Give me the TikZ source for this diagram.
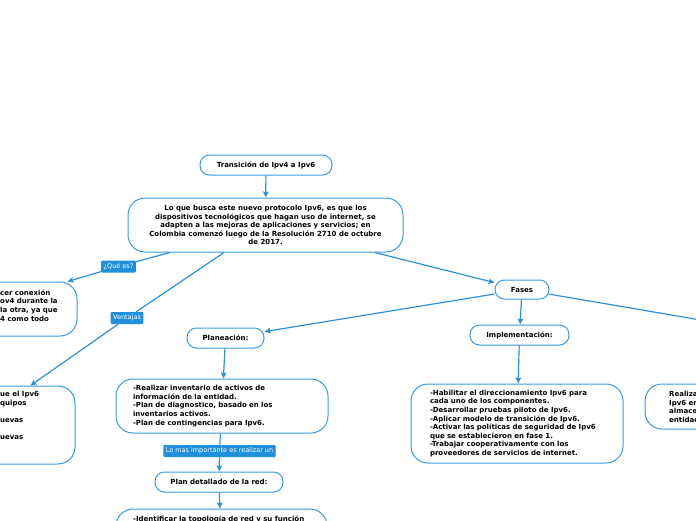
\documentclass[tikz,border=0pt]{standalone}
\usepackage{fontspec}
\setmainfont{DejaVu Sans}
\usetikzlibrary{arrows.meta,calc}
\definecolor{bl}{HTML}{3A9CE0}
\definecolor{ln}{HTML}{2A92DB}
\definecolor{labfill}{HTML}{2190DC}
\tikzset{
 box/.style={draw=bl, line width=1pt, rounded corners=17pt, fill=white, font=\bfseries\fontsize{7}{8.6}\selectfont, align=left, inner sep=0pt},
 pill/.style={draw=bl, line width=1pt, rounded corners=9.5pt, fill=white, font=\bfseries\fontsize{7}{8}\selectfont, minimum height=20pt, inner sep=0pt},
 txt/.style={font=\bfseries\fontsize{7}{8.6}\selectfont, align=left, inner sep=0pt},
 lab/.style={fill=labfill, text=white, rounded corners=1pt, font=\fontsize{6.5}{7}\selectfont, inner xsep=2.5pt, inner ysep=0pt, minimum height=12pt},
 conn/.style={draw=ln, line width=1.2pt, -{Stealth[length=6pt,width=5.5pt,inset=1pt]}},
 plainln/.style={draw=ln, line width=1.2pt},
}
\begin{document}
\begin{tikzpicture}[x=1pt,y=-1pt]
\useasboundingbox (0,0) rectangle (696,520);
\clip (0,0) rectangle (696,520);
% nodes
\node[pill, minimum width=132pt] (title) at (266,165) {Transición de Ipv4 a Ipv6};
\node[box, minimum width=275pt, minimum height=54pt, align=center] (main) at (265.5,225)
 {Lo que busca este nuevo protocolo Ipv6, es que los\\dispositivos tecnológicos que hagan uso de internet, se\\adapten a las mejoras de aplicaciones y servicios; en\\Colombia comenzó luego de la Resolución 2710 de octubre\\de 2017.};
\node[pill, minimum width=54pt, minimum height=19pt] (fases) at (522,289.5) {Fases};
\node[box, minimum width=230pt, minimum height=54pt] (left1) at (-38,309) {};
\node[txt, anchor=north west] (left1t) at (0,289.5) {cer conexión\\ov4 durante la\\la otra, ya que\\4 como todo};
\node[box, minimum width=225pt, minimum height=78pt] (left2) at (-37.5,425) {};
\node[txt, anchor=north west] (left2t) at (0,391) {ue el Ipv6\\quipos\\[8.6pt]uevas\\[8.6pt]uevas};
\node[pill, minimum width=77pt] (plan) at (225.5,338) {Planeación:};
\node[pill, minimum width=99pt] (impl) at (519.5,335) {Implementación:};
\node[box, minimum width=212pt, minimum height=79pt, text width=174pt] (implbox) at (517,423.5)
 {-Habilitar el direccionamiento Ipv6 para\\cada uno de los componentes.\\-Desarrollar pruebas piloto de Ipv6.\\-Aplicar modelo de transición de Ipv6.\\-Activar las políticas de seguridad de Ipv6\\que se establecieron en fase 1.\\-Trabajar cooperativamente con los\\proveedores de servicios de internet.};
\node[box, minimum width=175pt, minimum height=45pt] (rightbox) at (732.5,406.5) {};
\node[txt, anchor=north west] (rightt) at (669,391) {Realiza\\Ipv6 en\\almace\\entidad};
\node[box, minimum width=212pt, minimum height=54pt, text width=178pt] (planbox) at (222,406)
 {-Realizar inventario de activos de\\información de la entidad.\\-Plan de diagnostico, basado en los\\inventarios activos.\\-Plan de contingencias para Ipv6.};
\node[lab] (mas) at (219.5,451) {Lo mas importante es realizar un};
\node[pill, minimum width=128pt] (detallado) at (219,482) {Plan detallado de la red:};
\node[box, minimum width=211pt, minimum height=91pt] (detailbox) at (221.5,554.5) {};
\node[txt, anchor=north west] (detailt) at (133,515.5) {-Identificar la topología de red y su función};
\node[lab] (que) at (118.5,266.5) {¿Qué es?};
\node[lab] (vent) at (127,318) {Ventajas};
\coordinate (offr) at (730,325);
% connectors
\draw[conn] (title) -- (main);
\draw[conn] (main) -- (fases);
\draw[plainln] ([xshift=-95.5pt]main.south) -- (que);
\draw[conn] (que) -- ([xshift=-10pt]left1.north east);
\draw[plainln] ([xshift=-41.5pt]main.south) -- (vent);
\draw[conn] (vent) -- ([xshift=-45pt]left2.north east);
\draw[conn] (fases) -- (plan);
\draw[conn] (fases) -- (impl);
\draw[plainln] (fases) -- (offr);
\draw[conn] (impl) -- (implbox);
\draw[conn] (plan) -- (planbox);
\draw[plainln] (planbox) -- (mas);
\draw[conn] (mas) -- (detallado);
\draw[conn] (detallado) -- (detailbox);
\end{tikzpicture}
\end{document}
